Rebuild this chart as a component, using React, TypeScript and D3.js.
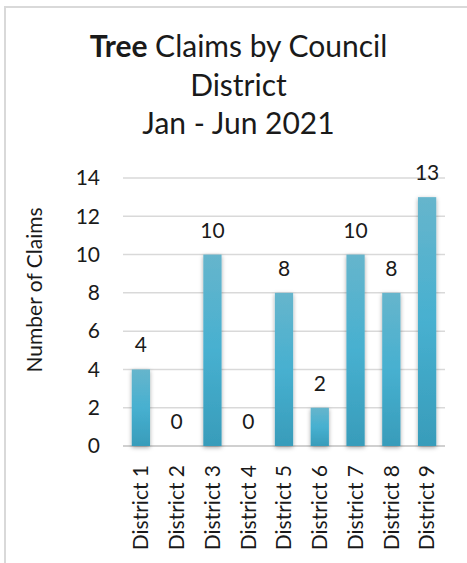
import React from 'react'
import * as d3 from 'd3'

const districts = [
  'District 1',
  'District 2',
  'District 3',
  'District 4',
  'District 5',
  'District 6',
  'District 7',
  'District 8',
  'District 9',
]
const claims = [4, 0, 10, 0, 8, 2, 10, 8, 13]
const yTicks = [0, 2, 4, 6, 8, 10, 12, 14]
const titleLines = ['Claims by Council', 'District', 'Jan - Jun 2021']

const width = 467
const height = 563
const font = 'Lato, "Open Sans", sans-serif'

export default function App() {
  // plot area
  const x = d3
    .scaleBand()
    .domain(districts)
    .range([123, 445])
    .paddingInner(0.49)
    .paddingOuter(0.245)
  const y = d3.scaleLinear().domain([0, 14]).range([446, 178])

  return (
    <svg
      width={width}
      height={height}
      style={{ position: 'absolute', left: 0, top: 0, background: '#fff' }}
      fontFamily={font}
    >
      <defs>
        <linearGradient id="barFill" x1="0" y1="0" x2="0" y2="1">
          <stop offset="0%" stopColor="#66b5cc" />
          <stop offset="50%" stopColor="#47b0d0" />
          <stop offset="100%" stopColor="#389cba" />
        </linearGradient>
        <filter id="barShadow" x="-40%" y="-10%" width="180%" height="125%">
          <feDropShadow dx="0" dy="1.5" stdDeviation="2" floodColor="#000" floodOpacity="0.35" />
        </filter>
      </defs>

      {/* chart frame */}
      <rect x={5} y={7} width={width + 10} height={height + 10} fill="#fff" stroke="#d9d9d9" strokeWidth={2} />

      {/* title */}
      <text x={238.5} y={57} textAnchor="middle" fontSize={30} fill="#1a1a1a">
        <tspan fontWeight="bold">Tree</tspan> {titleLines[0]}
      </text>
      <text x={238.5} y={96} textAnchor="middle" fontSize={30} fill="#1a1a1a">
        {titleLines[1]}
      </text>
      <text x={238.5} y={134} textAnchor="middle" fontSize={30} fill="#1a1a1a">
        {titleLines[2]}
      </text>

      {/* gridlines */}
      {yTicks.map((t) => (
        <line
          key={t}
          x1={123}
          x2={445}
          y1={y(t)}
          y2={y(t)}
          stroke={t === 0 ? '#d0d0d0' : '#d9d9d9'}
          strokeWidth={t === 0 ? 2 : 1.5}
        />
      ))}

      {/* y tick labels */}
      {yTicks.map((t) => (
        <text key={t} x={100} y={y(t)} dy="0.35em" textAnchor="end" fontSize={21} fill="#1a1a1a">
          {t}
        </text>
      ))}

      {/* y axis title */}
      <text
        transform={`translate(42,290) rotate(-90)`}
        textAnchor="middle"
        fontSize={21}
        fill="#1a1a1a"
      >
        Number of Claims
      </text>

      {/* bars */}
      {districts.map((d, i) =>
        claims[i] > 0 ? (
          <rect
            key={d}
            x={x(d)}
            y={y(claims[i])}
            width={x.bandwidth()}
            height={y(0) - y(claims[i])}
            fill="url(#barFill)"
            filter="url(#barShadow)"
          />
        ) : null
      )}

      {/* data labels */}
      {districts.map((d, i) => (
        <text
          key={d}
          x={(x(d) as number) + x.bandwidth() / 2}
          y={y(claims[i]) - 17}
          textAnchor="middle"
          fontSize={21}
          fill="#1a1a1a"
        >
          {claims[i]}
        </text>
      ))}

      {/* category labels */}
      {districts.map((d) => (
        <text
          key={d}
          transform={`translate(${(x(d) as number) + x.bandwidth() / 2},465) rotate(-90)`}
          dy="0.35em"
          textAnchor="end"
          fontSize={21}
          fill="#1a1a1a"
        >
          {d}
        </text>
      ))}
    </svg>
  )
}
